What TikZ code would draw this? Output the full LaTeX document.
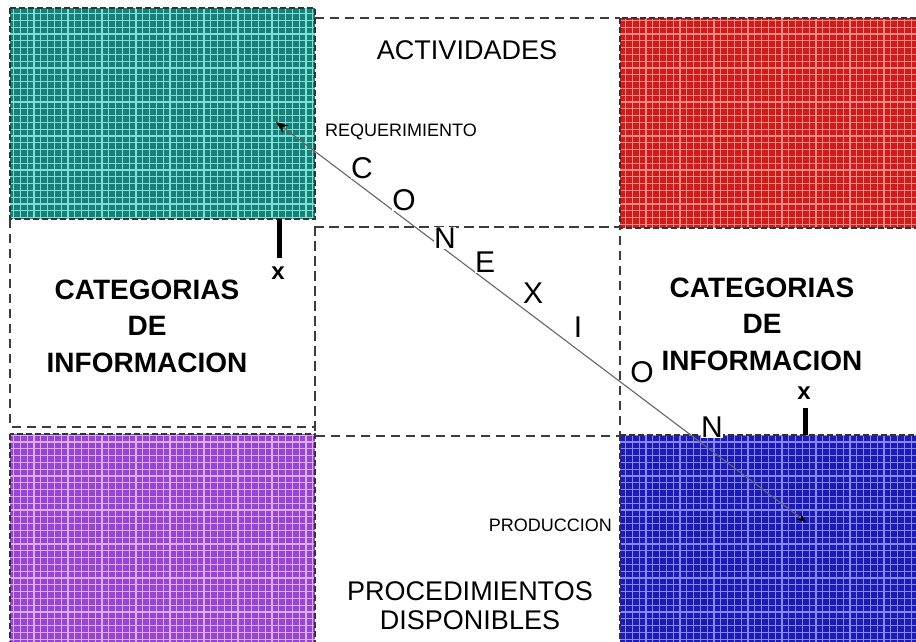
\documentclass[tikz,border=0pt]{standalone}
\usepackage{fontspec}
\setmainfont{Liberation Sans}
\usetikzlibrary{arrows.meta}
\definecolor{tealbase}{RGB}{24,128,120}
\definecolor{tealline}{RGB}{125,225,215}
\definecolor{redbase}{RGB}{205,28,28}
\definecolor{redline}{RGB}{245,135,130}
\definecolor{purpbase}{RGB}{150,68,210}
\definecolor{purpline}{RGB}{222,172,242}
\definecolor{bluebase}{RGB}{28,28,178}
\definecolor{blueline}{RGB}{135,135,250}
\definecolor{dashgray}{RGB}{60,60,60}
\tikzset{
  dashln/.style={draw=dashgray, line width=1.4pt, dash pattern=on 9pt off 6pt},
  quadborder/.style={draw=black!80, line width=1.6pt, dash pattern=on 6pt off 3pt},
  gridln/.style={line width=1.3pt},
  letter/.style={font=\fontsize{30}{30}\selectfont, fill=white, inner sep=0.5pt},
  bigtxt/.style={font=\fontsize{27}{27}\selectfont},
  smalltxt/.style={font=\fontsize{18}{18}\selectfont, inner sep=0pt},
  cattxt/.style={font=\bfseries\fontsize{28}{36.5}\selectfont, align=center},
  xmark/.style={font=\bfseries\fontsize{24}{24}\selectfont, inner sep=0pt},
  barln/.style={line width=5pt},
  conn/.style={draw=black!60, line width=1.1pt, {Stealth[length=12pt,width=9pt,black]}-{Stealth[length=9pt,width=7pt,black]}}
}
\newcommand{\gridquad}[4]{%
  \fill[#1] (#3) rectangle (#4);
  \begin{scope}
    \clip (#3) rectangle (#4);
    \draw[#2, gridln, step=6.8pt] (#3) grid (#4);
  \end{scope}
  \draw[quadborder] (#3) rectangle (#4);
}
\begin{document}
\begin{tikzpicture}[x=1pt,y=-1pt]
  \useasboundingbox[fill=white] (0,0) rectangle (916,642);
  % coloured quadrants
  \gridquad{tealbase}{tealline}{10,8}{315,219}
  \gridquad{redbase}{redline}{620,18}{918,228}
  \gridquad{purpbase}{purpline}{10,434}{315,644}
  \gridquad{bluebase}{blueline}{620,435}{918,644}
  % dashed boxes
  \draw[dashln] (315,18) -- (620,18);
  \draw[dashln] (315,227) -- (620,227);
  \draw[dashln] (10,219) -- (10,427) -- (315,427) -- (315,219);
  \draw[dashln] (315,227) rectangle (620,436);
  % texts
  \node[bigtxt] (act) at (467,50) {ACTIVIDADES};
  \node[smalltxt, anchor=west] (req) at (325,132) {REQUERIMIENTO};
  \node[cattxt] (catl) at (147,326) {CATEGORIAS\\DE\\INFORMACION};
  \node[cattxt] (catr) at (762,324) {CATEGORIAS\\DE\\INFORMACION};
  \node[smalltxt, anchor=east] (prod) at (612,525) {PRODUCCION};
  \node[bigtxt, align=center, font=\fontsize{27}{29}\selectfont] (proc) at (470,606) {PROCEDIMIENTOS\\DISPONIBLES};
  % x markers
  \coordinate (lbtop) at (279,219);
  \coordinate (lbbot) at (279,258);
  \draw[barln] (lbtop) -- (lbbot);
  \node[xmark] (lx) at (278,273) {x};
  \coordinate (rbtop) at (805,408);
  \coordinate (rbbot) at (805,435);
  \draw[barln] (rbtop) -- (rbbot);
  \node[xmark] (rx) at (804,393) {x};
  % connector
  \coordinate (reqend) at (276,122);
  \coordinate (prodend) at (806,522);
  \draw[conn] (reqend) -- (prodend);
  % letters of CONEXION
  \node[letter] (l1) at (362,168) {C};
  \node[letter] (l2) at (404,200) {O};
  \node[letter] (l3) at (445,238) {N};
  \node[letter] (l4) at (485,262) {E};
  \node[letter] (l5) at (533,293) {X};
  \node[letter] (l6) at (578,327) {I};
  \node[letter] (l7) at (642,372) {O};
  \node[letter] (l8) at (712,427) {N};
\end{tikzpicture}
\end{document}
